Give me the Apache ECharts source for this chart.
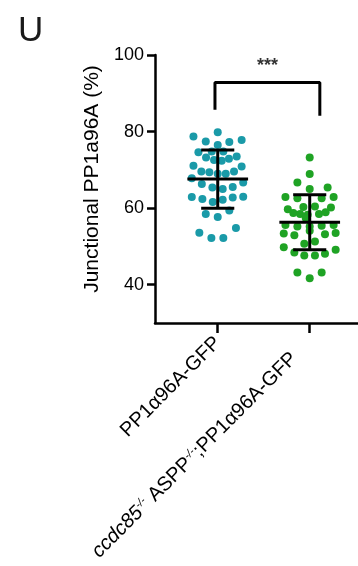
<!DOCTYPE html>
<html>
<head>
<meta charset="utf-8">
<script src="https://cdn.jsdelivr.net/npm/echarts@6/dist/echarts.min.js"></script>
<style>html,body{margin:0;padding:0;background:#fff;}#c{width:358px;height:566px;}</style>
</head>
<body>
<div id="c"></div>
<script>
const panelLetter = 'U';
const yAxisTitle = 'Junctional PP1a96A (%)';
const categories = ['PP1α96A-GFP', 'ccdc85-/-ASPP-/-;PP1α96A-GFP'];
const yTicks = [40, 60, 80, 100];

// group 1 (PP1α96A-GFP): values and horizontal jitter (category units)
const group1Values = [78.7, 79.8, 77.4, 76.5, 77.3, 77.8, 74.6, 74.8, 74.8, 73.2,
  72.6, 72.4, 72.9, 73.5, 71.1, 70.9, 69.6, 69.4, 69.0, 69.0,
  69.6, 67.8, 66.7, 66.3, 65.4, 65.0, 65.5, 62.9, 62.4, 61.6,
  62.2, 62.8, 63.0, 58.5, 57.7, 59.4, 53.6, 52.2, 52.2, 54.8];
const group1Jitter = [-0.264, 0, -0.13, 0, 0.126, 0.26, -0.21, -0.065, 0.061, -0.127,
  -0.04, 0.043, 0.122, 0.206, -0.264, 0.26, -0.178, -0.091, 0, 0.087,
  0.177, -0.282, 0.277, -0.173, -0.058, 0.054, 0.163, -0.282, -0.167, -0.054,
  0.054, 0.163, 0.277, -0.13, 0, 0.126, -0.2, -0.069, 0.061, 0.198];

// group 2 (ccdc85-/-ASPP-/-;PP1α96A-GFP)
const group2Values = [73.2, 68.9, 66.7, 65.0, 65.4, 62.9, 62.6, 62.6, 62.9, 59.7,
  60.3, 60.4, 60.2, 58.7, 58.5, 58.3, 58.5, 58.9, 57.4, 55.6,
  55.2, 55.2, 55.4, 55.6, 53.4, 52.9, 54.1, 53.2, 53.5, 50.7,
  51.3, 49.8, 48.4, 47.6, 47.6, 48.1, 49.1, 43.2, 41.7, 43.2];
const group2Jitter = [0, 0, -0.134, 0, 0.195, -0.264, -0.134, 0.13, 0.26, -0.238,
  -0.069, 0.057, 0.231, -0.178, -0.105, -0.022, 0.101, 0.173, -0.043, -0.264,
  -0.134, 0, 0.13, 0.26, -0.282, -0.167, 0, 0.166, 0.282, -0.059,
  0.057, -0.282, -0.167, -0.059, 0.057, 0.166, 0.282, -0.134, 0, 0.13];

const groupMeans = [67.6, 56.3];
const groupSD = [7.6, 7.2];

const bracketX = [0.97, 0.97, 2.11, 2.11];
const bracketY = [85.7, 92.8, 92.8, 84.1];
const sigText = '***';
const sigPos = [1.54, 97.0];

const FONT = 'Liberation Sans, Arial, Helvetica, sans-serif';

const chart = echarts.init(document.getElementById('c'), null, {renderer: 'canvas'});

const pts1 = group1Values.map((v, i) => [1 + group1Jitter[i], v]);
const pts2 = group2Values.map((v, i) => [2 + group2Jitter[i], v]);
const errData = groupMeans.map((m, i) => [i + 1, m, groupSD[i]]);

chart.setOption({
  animation: false,
  backgroundColor: '#fff',
  title: {
    text: panelLetter, left: 13, top: 9,
    textStyle: {fontFamily: FONT, fontSize: 35, fontWeight: 'normal', color: '#1a1a1a'}
  },
  grid: {left: 155, top: 55, right: 0, bottom: 243},
  xAxis: {
    type: 'value', min: 0.318, max: 2.525,
    splitLine: {show: false},
    axisLine: {show: true, lineStyle: {color: '#000', width: 2.5}},
    axisTick: {show: true, customValues: [1, 2], length: 10, inside: false, lineStyle: {color: '#000', width: 2.5}},
    axisLabel: {
      show: true, customValues: [1, 2], rotate: 45, margin: 17,
      fontFamily: FONT, fontSize: 20, color: '#000',
      formatter: function (v) {
        if (Math.abs(v - 1) < 1e-6) return '{n|' + categories[0] + '}';
        if (Math.abs(v - 2) < 1e-6) return '{i|ccdc85}{s|-/-}{n| ASPP}{s|-/-}{n|;PP1α96A-GFP}{pad| }';
        return '';
      },
      rich: {
        n: {fontFamily: FONT, fontSize: 20, color: '#000'},
        i: {fontFamily: FONT, fontSize: 20, fontStyle: 'italic', color: '#000'},
        s: {fontFamily: FONT, fontSize: 11, fontStyle: 'italic', color: '#000', verticalAlign: 'top'},
        pad: {width: 22}
      }
    }
  },
  yAxis: {
    type: 'value', min: 30, max: 100,
    splitLine: {show: false},
    name: yAxisTitle, nameLocation: 'middle', nameGap: 52, nameRotate: 90,
    nameTextStyle: {fontFamily: FONT, fontSize: 21, color: '#000', padding: [0, 0, 0, 20]},
    axisLine: {show: true, lineStyle: {color: '#000', width: 2.5}},
    axisTick: {show: true, customValues: yTicks, length: 8, lineStyle: {color: '#000', width: 2.5}},
    axisLabel: {show: true, customValues: yTicks, margin: 11, fontFamily: FONT, fontSize: 18, color: '#000'}
  },
  series: [
    {
      type: 'scatter', data: pts1, symbol: 'circle', symbolSize: 8,
      itemStyle: {color: '#1a9aa8', opacity: 1}, z: 2
    },
    {
      type: 'scatter', data: pts2, symbol: 'circle', symbolSize: 8,
      itemStyle: {color: '#1fa324', opacity: 1}, z: 2
    },
    {
      type: 'custom', data: errData, z: 5,
      renderItem: function (params, api) {
        const x = api.value(0), m = api.value(1), s = api.value(2);
        const c = api.coord([x, m]);
        const t = api.coord([x, m + s]);
        const b = api.coord([x, m - s]);
        const hm = api.size([0.33, 0])[0];
        const hc = api.size([0.18, 0])[0];
        const st = {stroke: '#000', lineWidth: 3};
        return {
          type: 'group',
          children: [
            {type: 'line', shape: {x1: c[0] - hm, y1: c[1], x2: c[0] + hm, y2: c[1]}, style: st},
            {type: 'line', shape: {x1: t[0], y1: t[1], x2: b[0], y2: b[1]}, style: st},
            {type: 'line', shape: {x1: t[0] - hc, y1: t[1], x2: t[0] + hc, y2: t[1]}, style: st},
            {type: 'line', shape: {x1: b[0] - hc, y1: b[1], x2: b[0] + hc, y2: b[1]}, style: st}
          ]
        };
      }
    },
    {
      type: 'line', data: bracketX.map((x, i) => [x, bracketY[i]]),
      symbol: 'none', lineStyle: {color: '#000', width: 3}, z: 5, silent: true
    },
    {
      type: 'scatter', data: [sigPos], symbolSize: 1, itemStyle: {color: 'rgba(0,0,0,0)'},
      label: {show: true, position: 'inside', formatter: sigText, fontFamily: FONT, fontSize: 18, fontWeight: 'bold', color: '#000'},
      z: 6
    }
  ]
});
</script>
</body>
</html>
